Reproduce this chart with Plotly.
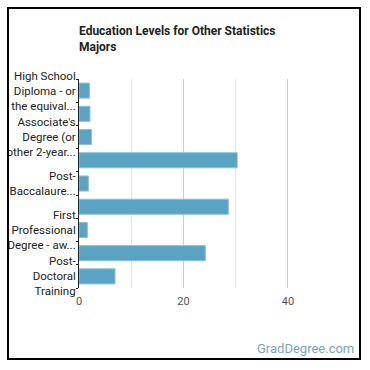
import plotly.graph_objects as go

categories = [
    "High School Diploma - or the equivalent",
    "Some College Courses",
    "Associate's Degree (or other 2-year degree)",
    "Bachelor's Degree",
    "Post-Baccalaureate Certificate",
    "Master's Degree",
    "First Professional Degree - awarded",
    "Doctoral Degree",
    "Post-Doctoral Training",
]
values = [2.0, 2.1, 2.4, 30.3, 1.8, 28.6, 1.6, 24.2, 6.9]
tick_labels = [
    "High School<br>Diploma - or<br>the equival...",
    "",
    "Associate's<br>Degree (or<br>other 2-year...",
    "",
    "Post-<br>Baccalaure...",
    "",
    "First<br>Professional<br>Degree - aw...",
    "",
    "Post-<br>Doctoral<br>Training",
]
x_ticks = [0, 20, 40]

W, H = 370, 370
L, R, T, B = 79, 56, 79, 82
pw, ph = W - L - R, H - T - B

def px(x):
    return (x - L) / pw

def py(y):
    return (H - B - y) / ph

fig = go.Figure(go.Bar(
    y=categories, x=values, orientation="h",
    marker=dict(color="#5ba3c3", line=dict(color="#8fc2d9", width=1)),
    hoverinfo="x+y",
))

fig.update_layout(
    width=W, height=H,
    margin=dict(l=L, r=R, t=T, b=B, autoexpand=False),
    paper_bgcolor="white", plot_bgcolor="white",
    font=dict(family="Roboto, Arial, sans-serif", size=11, color="#333"),
    bargap=0.35,
    showlegend=False,
    title=dict(
        text="<b>Education Levels for Other Statistics<br>Majors</b>",
        xref="paper", x=0, xanchor="left",
        yref="container", y=1 - 35 / H, yanchor="top",
        font=dict(size=12, color="#222"),
    ),
    xaxis=dict(
        range=[0, 45], tickvals=x_ticks, ticktext=[str(v) for v in x_ticks],
        showgrid=True, gridcolor="#cccccc", gridwidth=1,
        minor=dict(dtick=10, showgrid=True, gridcolor="#e4e4e4", gridwidth=1),
        zeroline=False, showline=False, ticks="", automargin=False,
        ticklabelstandoff=5,
        tickfont=dict(size=11, color="#555"),
    ),
    yaxis=dict(
        autorange="reversed", tickmode="array", tickvals=categories,
        ticktext=tick_labels, showline=True, linecolor="#222", linewidth=1,
        ticks="outside", ticklen=2, tickcolor="#222", tickson="boundaries",
        showgrid=False, automargin=False,
        tickfont=dict(size=11.5, color="#222"),
    ),
    shapes=[dict(
        type="rect", xref="paper", yref="paper",
        x0=px(8), x1=px(360), y0=py(359), y1=py(8),
        line=dict(color="black", width=2), fillcolor="rgba(0,0,0,0)",
        layer="above",
    )],
    annotations=[dict(
        text="GradDegree.com", xref="paper", yref="paper",
        x=px(356), y=py(348), xanchor="right", yanchor="middle",
        showarrow=False, font=dict(size=13, color="#7aa3bf"),
    )],
)

fig.write_html("out.html")
